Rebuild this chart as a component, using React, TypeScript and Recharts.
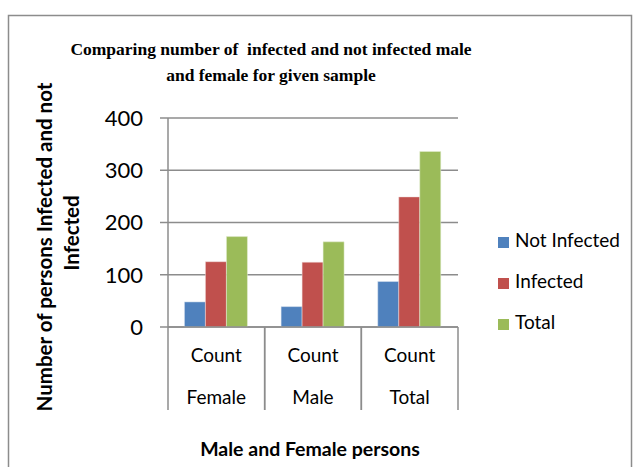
import { BarChart, Bar, XAxis, YAxis, CartesianGrid, Legend } from 'recharts'

const categories = ['Female', 'Male', 'Total']
const notInfected = [48, 39, 87]
const infected = [125, 124, 249]
const totals = [173, 163, 336]
const yTicks = [0, 100, 200, 300, 400]
const seriesOrder = ['Not Infected', 'Infected', 'Total']

const data = categories.map((name, i) => ({
	name,
	notInfected: notInfected[i],
	infected: infected[i],
	total: totals[i],
}))

const FONT = 'Lato, "Open Sans", sans-serif'
const AXIS_GRAY = '#8c8c8c'

const CategoryTick = (props: any) => {
	const { x, y, payload, width, visibleTicksCount } = props
	const half = width / visibleTicksCount / 2
	return (
		<g>
			<line x1={x - half} y1={y - 8} x2={x - half} y2={y + 75} stroke={AXIS_GRAY} strokeWidth={1.5} />
			<line x1={x + half} y1={y - 8} x2={x + half} y2={y + 75} stroke={AXIS_GRAY} strokeWidth={1.5} />
			<text x={x} y={y + 27} textAnchor="middle" fontSize={19} fontFamily={FONT} fill="#000">
				Count
			</text>
			<text x={x} y={y + 69} textAnchor="middle" fontSize={19} fontFamily={FONT} fill="#000">
				{payload.value}
			</text>
		</g>
	)
}

const App = () => {
	return (
		<div style={{ position: 'absolute', left: 0, top: 0, width: 639, height: 467, background: '#fff' }}>
			<svg width={639} height={467} style={{ position: 'absolute', left: 0, top: 0 }}>
				<rect x={8.5} y={15.5} width={623} height={460} fill="none" stroke={AXIS_GRAY} strokeWidth={1.5} />
				<text x={271} y={55} textAnchor="middle" fontSize={17.5} fontWeight="bold" fontFamily='"Liberation Serif", serif' style={{ whiteSpace: 'pre' }}>
					Comparing number of  infected and not infected male
				</text>
				<text x={271} y={81} textAnchor="middle" fontSize={17.5} fontWeight="bold" fontFamily='"Liberation Serif", serif'>
					and female for given sample
				</text>
				<text transform="translate(52,247) rotate(-90)" textAnchor="middle" fontSize={20.5} fontWeight="bold" fontFamily={FONT}>
					Number of persons Infected and not
				</text>
				<text transform="translate(79,233) rotate(-90)" textAnchor="middle" fontSize={20.5} fontWeight="bold" fontFamily={FONT}>
					Infected
				</text>
				<text x={310} y={456} textAnchor="middle" fontSize={19.5} fontWeight="bold" fontFamily={FONT}>
					Male and Female persons
				</text>
			</svg>
			<div style={{ position: 'absolute', left: 0, top: 0 }}>
				<BarChart
					width={639}
					height={467}
					data={data}
					margin={{ top: 118, right: 181, bottom: 0, left: 0 }}
					barCategoryGap="17%"
					barGap={0}
				>
					<CartesianGrid vertical={false} stroke={AXIS_GRAY} strokeWidth={1.5} />
					<XAxis
						dataKey="name"
						axisLine={{ stroke: AXIS_GRAY, strokeWidth: 1.5 }}
						tickLine={false}
						tick={<CategoryTick />}
						height={140}
						interval={0}
					/>
					<YAxis
						domain={[0, 400]}
						ticks={yTicks}
						width={168}
						axisLine={{ stroke: AXIS_GRAY, strokeWidth: 1.5 }}
						tickLine={{ stroke: AXIS_GRAY, strokeWidth: 1.5 }}
						tickSize={8}
						tickMargin={17}
						tick={{ fontSize: 22, fontFamily: FONT, fill: '#000' }}
					/>
					<Legend
						layout="vertical"
						align="center"
						verticalAlign="middle"
						iconType="square"
						iconSize={11}
						itemSorter={(item: any) => seriesOrder.indexOf(item.value)}
						wrapperStyle={{ left: 498, top: 219, width: 140, fontFamily: FONT, fontSize: 19, lineHeight: '41px', textAlign: 'left' }}
						formatter={(value: string) => <span style={{ color: '#000', marginLeft: 2 }}>{value}</span>}
					/>
					<Bar dataKey="notInfected" name="Not Infected" fill="#4F81BD" stroke="#dfe6f0" strokeWidth={0.5} isAnimationActive={false} />
					<Bar dataKey="infected" name="Infected" fill="#C0504D" stroke="#f0dcdc" strokeWidth={0.5} isAnimationActive={false} />
					<Bar dataKey="total" name="Total" fill="#9BBB59" stroke="#e6efd8" strokeWidth={0.5} isAnimationActive={false} />
				</BarChart>
			</div>
		</div>
	)
}

export default App
